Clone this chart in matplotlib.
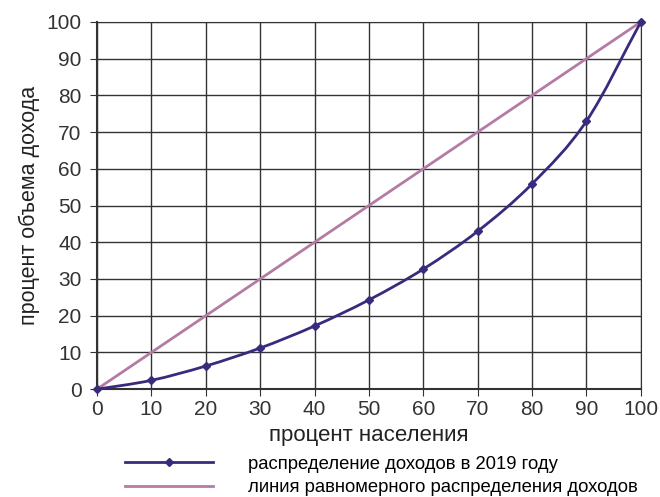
import numpy as np
import matplotlib.pyplot as plt
from matplotlib.path import Path
from matplotlib.patches import PathPatch
from matplotlib.lines import Line2D

population = [0, 10, 20, 30, 40, 50, 60, 70, 80, 90, 100]
income_2019 = [0, 2.4, 6.3, 11.2, 17.2, 24.3, 32.7, 43.0, 55.9, 73.0, 100]
equality = [0, 100]

curve_color = '#3a2a7e'
equal_color = '#b47ba6'

plt.rcParams['font.family'] = ['Liberation Sans', 'DejaVu Sans']

fig = plt.figure(figsize=(6.6, 4.97), dpi=100)
ax = fig.add_axes([0.147, 0.217, 0.824, 0.739])


def smooth_path(x, y):
    # catmull-rom -> bezier, just for a smooth line like the original
    x = np.asarray(x, float)
    y = np.asarray(y, float)
    px = np.concatenate([[x[0]], x, [2 * x[-1] - x[-2]]])
    py = np.concatenate([[y[0]], y, [2 * y[-1] - y[-2]]])
    verts = [(x[0], y[0])]
    codes = [Path.MOVETO]
    for i in range(1, len(px) - 2):
        c1 = (px[i] + (px[i + 1] - px[i - 1]) / 6, py[i] + (py[i + 1] - py[i - 1]) / 6)
        c2 = (px[i + 1] - (px[i + 2] - px[i]) / 6, py[i + 1] - (py[i + 2] - py[i]) / 6)
        verts += [c1, c2, (px[i + 1], py[i + 1])]
        codes += [Path.CURVE4] * 3
    return Path(verts, codes)


ax.plot(equality, equality, color=equal_color, lw=2, zorder=3)
ax.add_patch(PathPatch(smooth_path(population, income_2019), fill=False,
                       edgecolor=curve_color, lw=2, zorder=4))
ax.plot(population, income_2019, ls='none', marker='D', ms=4,
        color=curve_color, zorder=5, clip_on=False)

ax.set_xlim(0, 100)
ax.set_ylim(0, 100)
ax.set_xticks(range(0, 101, 10))
ax.set_yticks(range(0, 101, 10))
ax.grid(True, color='#333333', lw=1)
ax.set_axisbelow(True)
for s in ax.spines.values():
    s.set_color('#333333')
ax.spines['bottom'].set_linewidth(1.5)
ax.spines['left'].set_linewidth(1.5)
ax.tick_params(labelsize=15, colors='#333333', length=5, pad=3)
ax.tick_params(axis='y', pad=6)
ax.set_xlabel('процент населения', fontsize=16, color='#222222', labelpad=4)
ax.set_ylabel('процент объема дохода', fontsize=15.5, color='#222222', labelpad=5)

handles = [
    Line2D([], [], color=curve_color, lw=2, marker='D', ms=4),
    Line2D([], [], color=equal_color, lw=2),
]
fig.legend(handles, ['распределение доходов в 2019 году',
                     'линия равномерного распределения доходов'],
           loc='center left', bbox_to_anchor=(125 / 660, 1 - 476 / 497),
           frameon=False, fontsize=13.3, handlelength=4.76, handletextpad=1.9,
           labelspacing=0.35, numpoints=1, borderaxespad=0, borderpad=0)

fig.savefig('out.png', dpi=100)
